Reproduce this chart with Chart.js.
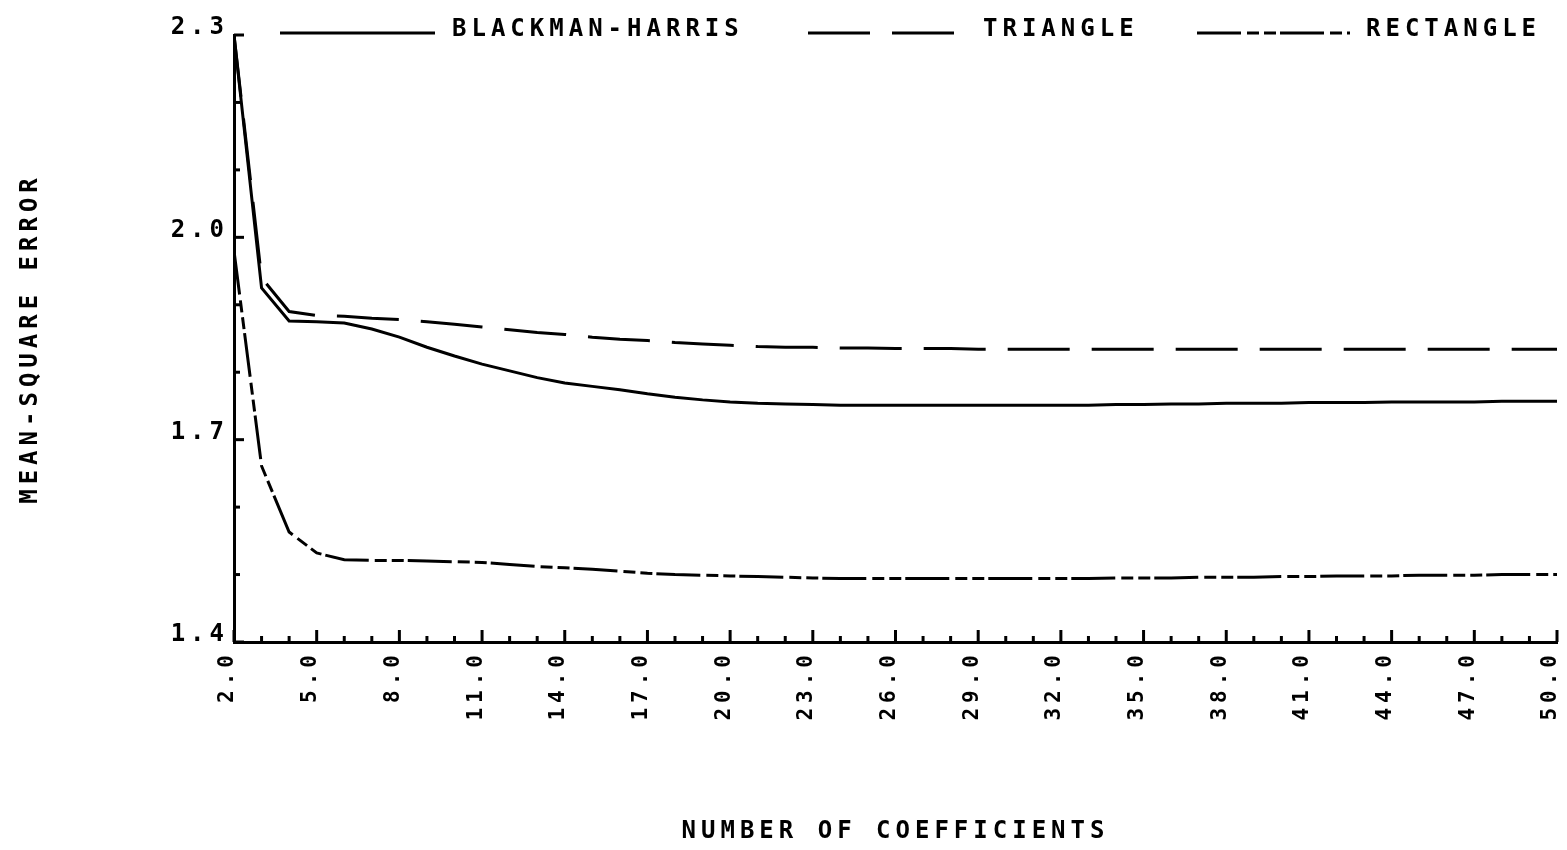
<!DOCTYPE html>
<html><head><meta charset="utf-8">
<script src="https://cdn.jsdelivr.net/npm/chart.js@4"></script>
<style>html,body{margin:0;padding:0;background:#fff;}#wrap{width:1567px;height:850px;}</style>
</head><body><div id="wrap"><canvas id="c" width="1567" height="850"></canvas></div>
<script>
const coefficients = [2,3,4,5,6,7,8,9,10,11,12,13,14,15,16,17,18,19,20,21,22,23,24,25,26,27,28,29,30,31,32,33,34,35,36,37,38,39,40,41,42,43,44,45,46,47,48,49,50];
const blackmanHarris = [2.300,1.925,1.876,1.875,1.873,1.864,1.852,1.837,1.824,1.812,1.802,1.792,1.784,1.779,1.774,1.768,1.763,1.759,1.756,1.754,1.753,1.752,1.751,1.751,1.751,1.751,1.751,1.751,1.751,1.751,1.751,1.751,1.752,1.752,1.753,1.753,1.754,1.754,1.754,1.755,1.755,1.755,1.756,1.756,1.756,1.756,1.757,1.757,1.757];
const triangle = [2.300,1.940,1.890,1.884,1.883,1.880,1.878,1.875,1.871,1.867,1.863,1.859,1.856,1.852,1.849,1.847,1.844,1.842,1.840,1.838,1.837,1.837,1.836,1.836,1.835,1.835,1.835,1.834,1.834,1.834,1.834,1.834,1.834,1.834,1.834,1.834,1.834,1.834,1.834,1.834,1.834,1.834,1.834,1.834,1.834,1.834,1.834,1.834,1.834];
const rectangle = [1.980,1.661,1.563,1.532,1.522,1.521,1.521,1.520,1.519,1.518,1.515,1.512,1.510,1.508,1.505,1.502,1.500,1.499,1.498,1.497,1.496,1.495,1.494,1.494,1.494,1.494,1.494,1.494,1.494,1.494,1.494,1.494,1.495,1.495,1.495,1.496,1.496,1.496,1.497,1.497,1.498,1.498,1.498,1.499,1.499,1.499,1.500,1.500,1.500];
const seriesNames = ['BLACKMAN-HARRIS','TRIANGLE','RECTANGLE'];
const xTickValues = [2,5,8,11,14,17,20,23,26,29,32,35,38,41,44,47,50];
const xTickLabels = ['2.0','5.0','8.0','11.0','14.0','17.0','20.0','23.0','26.0','29.0','32.0','35.0','38.0','41.0','44.0','47.0','50.0'];
const yTickValues = [1.4,1.7,2.0,2.3];
const yTickLabels = ['1.4','1.7','2.0','2.3'];
const yMinorTicks = [1.4,1.5,1.6,1.7,1.8,1.9,2.0,2.1,2.2,2.3];
const xTitle = 'NUMBER OF COEFFICIENTS';
const yTitle = 'MEAN-SQUARE ERROR';

const FONT = 'DejaVu Sans Mono';
const SPACING = '5px';
const spacingPlugin = {
  id: 'spacing',
  beforeLayout(c){ c.ctx.letterSpacing = SPACING; },
  beforeDraw(c){ c.ctx.letterSpacing = SPACING; }
};
const axisTicks = {
  id: 'axisTicks',
  afterDatasetsDraw(chart){
    const {ctx, chartArea:a} = chart; const x = chart.scales.x, y = chart.scales.y;
    ctx.save(); ctx.strokeStyle = '#000'; ctx.lineWidth = 3; ctx.setLineDash([]);
    coefficients.forEach(v => {
      const px = x.getPixelForValue(v); const len = xTickValues.includes(v) ? 12 : 6;
      ctx.beginPath(); ctx.moveTo(px, a.bottom); ctx.lineTo(px, a.bottom - len); ctx.stroke();
    });
    yMinorTicks.forEach(v => {
      const py = y.getPixelForValue(v); const len = yTickValues.some(t => Math.abs(t - v) < 1e-9) ? 10 : 6;
      ctx.beginPath(); ctx.moveTo(a.left, py); ctx.lineTo(a.left + len, py); ctx.stroke();
    });
    ctx.restore();
  }
};
const legendLayout = [{x1:280,x2:435,tx:452},{x1:808,x2:962,tx:983},{x1:1197,x2:1350,tx:1366}];
const legendPlugin = {
  id: 'plotLegend',
  afterDraw(chart){
    const ctx = chart.ctx; ctx.save();
    ctx.letterSpacing = SPACING;
    chart.data.datasets.forEach((ds, i) => {
      const L = legendLayout[i];
      ctx.strokeStyle = '#000'; ctx.lineWidth = 3; ctx.setLineDash(ds.borderDash || []);
      ctx.beginPath(); ctx.moveTo(L.x1, 33); ctx.lineTo(L.x2, 33); ctx.stroke();
      ctx.setLineDash([]);
      ctx.fillStyle = '#000'; ctx.font = 'bold 24px "' + FONT + '"'; ctx.textBaseline = 'middle'; ctx.textAlign = 'left';
      ctx.fillText(ds.label, L.tx, 30);
    });
    ctx.restore();
  }
};
const toPoints = vals => coefficients.map((x, i) => ({x, y: vals[i]}));
const lineDs = (label, vals, dash) => ({label, data: toPoints(vals), borderColor:'#000', borderWidth:3, borderDash:dash, pointRadius:0, tension:0, fill:false});

new Chart(document.getElementById('c'), {
  type: 'line',
  data: { datasets: [
    lineDs(seriesNames[0], blackmanHarris, []),
    lineDs(seriesNames[1], triangle, [62,22]),
    lineDs(seriesNames[2], rectangle, [44,6,12,5,12,4])
  ]},
  options: {
    responsive:false, animation:false, devicePixelRatio:1,
    layout:{padding:{top:35,right:10,left:0,bottom:0}},
    plugins:{legend:{display:false}, tooltip:{enabled:false}},
    scales:{
      x:{type:'linear', min:2, max:50,
        afterBuildTicks: s => { s.ticks = xTickValues.map(v => ({value:v})); },
        afterFit: s => { s.height = 208; s.paddingLeft = 0; s.paddingRight = 0; },
        grid:{display:false}, border:{display:true, color:'#000', width:3},
        ticks:{autoSkip:false, minRotation:90, maxRotation:90, padding:0, labelOffset:-6, color:'#000',
          font:{family:FONT, size:21, weight:'bold'},
          callback: v => xTickLabels[xTickValues.indexOf(v)]},
        title:{display:true, text:xTitle, color:'#000', font:{family:FONT, size:24, weight:'bold'}, padding:{top:0,bottom:4}}
      },
      y:{type:'linear', min:1.4, max:2.3,
        afterBuildTicks: s => { s.ticks = yTickValues.map(v => ({value:v})); },
        afterFit: s => { s.width = 234; },
        grid:{display:false}, border:{display:true, color:'#000', width:3},
        ticks:{padding:-3, labelOffset:-7, color:'#000', font:{family:FONT, size:24, weight:'bold'},
          callback: v => yTickLabels[yTickValues.findIndex(t => Math.abs(t - v) < 1e-9)]},
        title:{display:true, text:yTitle, color:'#000', font:{family:FONT, size:24, weight:'bold'}, padding:{top:16,bottom:0}}
      }
    }
  },
  plugins:[spacingPlugin, axisTicks, legendPlugin]
});
</script></body></html>
